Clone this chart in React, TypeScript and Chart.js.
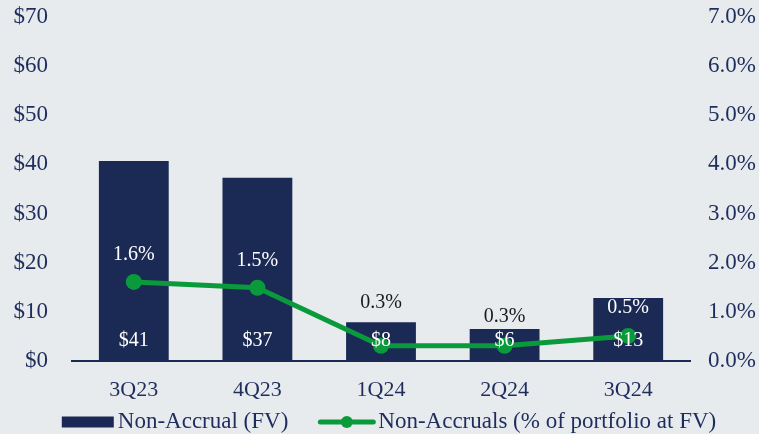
import React, { useEffect, useRef } from "react";
import { Chart, registerables } from "chart.js";

Chart.register(...registerables);

const categories = ["3Q23", "4Q23", "1Q24", "2Q24", "3Q24"];
const nonAccrualFV = [40.7, 37.3, 7.9, 6.5, 12.8];
const nonAccrualPct = [1.61, 1.49, 0.31, 0.31, 0.51];
const fvLabels = ["$41", "$37", "$8", "$6", "$13"];
const pctLabels = ["1.6%", "1.5%", "0.3%", "0.3%", "0.5%"];
const leftTicks = [0, 10, 20, 30, 40, 50, 60, 70];
const rightTicks = [0, 1, 2, 3, 4, 5, 6, 7];
const legendLabels = ["Non-Accrual (FV)", "Non-Accruals (% of portfolio at FV)"];

const BG = "#e7ebee";
const NAVY = "#1b2a55";
const TEXT = "#1f2d5c";
const GREEN = "#0a9a3b";
const FONT = "'Liberation Serif', serif";
const pctLabelOffsets = [27, 27, 43, 29, 28];

export default function App() {
  const ref = useRef<HTMLCanvasElement | null>(null);

  useEffect(() => {
    const canvas = ref.current!;
    const labelsPlugin = {
      id: "customLabels",
      afterDatasetsDraw(chart: any) {
        const ctx = chart.ctx;
        const barMeta = chart.getDatasetMeta(0);
        const lineMeta = chart.getDatasetMeta(1);
        const y0 = chart.scales.y.getPixelForValue(0);
        ctx.save();
        ctx.textAlign = "center";
        ctx.textBaseline = "middle";
        ctx.font = `20px ${FONT}`;
        categories.forEach((_, i) => {
          const bar = barMeta.data[i];
          const pt = lineMeta.data[i];
          ctx.fillStyle = "#ffffff";
          ctx.fillText(fvLabels[i], bar.x, y0 - 20);
          const ly = pt.y - pctLabelOffsets[i];
          ctx.fillStyle = ly > bar.y ? "#ffffff" : "#1a1a1a";
          ctx.fillText(pctLabels[i], bar.x, ly);
        });
        ctx.restore();
      },
      afterDraw(chart: any) {
        const ctx = chart.ctx;
        ctx.save();
        ctx.font = `23px ${FONT}`;
        ctx.textBaseline = "middle";
        const w1 = ctx.measureText(legendLabels[0]).width;
        const w2 = ctx.measureText(legendLabels[1]).width;
        const boxW = 52, gap1 = 4, gapItems = 30, lineW = 57, gap2 = 3;
        const total = boxW + gap1 + w1 + gapItems + lineW + gap2 + w2;
        let x = 389 - total / 2;
        const y = 422;
        ctx.fillStyle = NAVY;
        ctx.fillRect(x, y - 5.5, boxW, 11);
        x += boxW + gap1;
        ctx.fillStyle = TEXT;
        ctx.fillText(legendLabels[0], x, y);
        x += w1 + gapItems;
        ctx.strokeStyle = GREEN;
        ctx.lineWidth = 5;
        ctx.lineCap = "round";
        ctx.beginPath();
        ctx.moveTo(x + 2, y);
        ctx.lineTo(x + lineW - 2, y);
        ctx.stroke();
        ctx.fillStyle = GREEN;
        ctx.beginPath();
        ctx.arc(x + lineW / 2, y, 6, 0, Math.PI * 2);
        ctx.fill();
        x += lineW + gap2;
        ctx.fillStyle = TEXT;
        ctx.fillText(legendLabels[1], x, y);
        ctx.restore();
      },
    };

    const fitV = (w: number) => (s: any) => {
      s.width = w;
      s.paddingTop = 0;
      s.paddingBottom = 0;
    };

    const chart = new Chart(canvas, {
      type: "bar",
      data: {
        labels: categories,
        datasets: [
          {
            type: "bar",
            label: legendLabels[0],
            data: nonAccrualFV,
            backgroundColor: NAVY,
            yAxisID: "y",
            categoryPercentage: 1,
            barPercentage: 0.565,
            order: 2,
          } as any,
          {
            type: "line",
            label: legendLabels[1],
            data: nonAccrualPct,
            borderColor: GREEN,
            backgroundColor: GREEN,
            borderWidth: 5,
            pointRadius: 8,
            pointHoverRadius: 8,
            pointBackgroundColor: GREEN,
            pointBorderWidth: 0,
            yAxisID: "y1",
            order: 1,
          } as any,
        ],
      },
      options: {
        responsive: false,
        animation: false,
        layout: { padding: { top: 17, bottom: 0, left: 0, right: 0 } },
        plugins: { legend: { display: false }, tooltip: { enabled: false } },
        scales: {
          x: {
            grid: { display: false, drawTicks: false },
            border: { display: true, color: NAVY, width: 2 },
            ticks: { color: TEXT, font: { family: FONT, size: 22 }, padding: 16 },
            afterFit: (s: any) => { s.height = 73; s.paddingLeft = 0; s.paddingRight = 0; },
          },
          y: {
            position: "left",
            min: 0,
            max: 70,
            afterBuildTicks: (s: any) => { s.ticks = leftTicks.map((v) => ({ value: v })); },
            grid: { display: false, drawTicks: false },
            border: { display: false },
            ticks: {
              color: TEXT,
              font: { family: FONT, size: 23 },
              padding: 24,
              callback: (v: any) => "$" + v,
            },
            afterFit: fitV(72),
          },
          y1: {
            position: "right",
            min: 0,
            max: 7,
            afterBuildTicks: (s: any) => { s.ticks = rightTicks.map((v) => ({ value: v })); },
            grid: { display: false, drawTicks: false },
            border: { display: false },
            ticks: {
              color: TEXT,
              font: { family: FONT, size: 23 },
              padding: 18,
              callback: (v: any) => Number(v).toFixed(1) + "%",
            },
            afterFit: fitV(69),
          },
        },
      },
      plugins: [labelsPlugin],
    });
    return () => chart.destroy();
  }, []);

  return (
    <div style={{ position: "fixed", left: 0, top: 0, width: 759, height: 434, background: BG }}>
      <canvas ref={ref} width={759} height={434} style={{ display: "block" }} />
    </div>
  );
}
